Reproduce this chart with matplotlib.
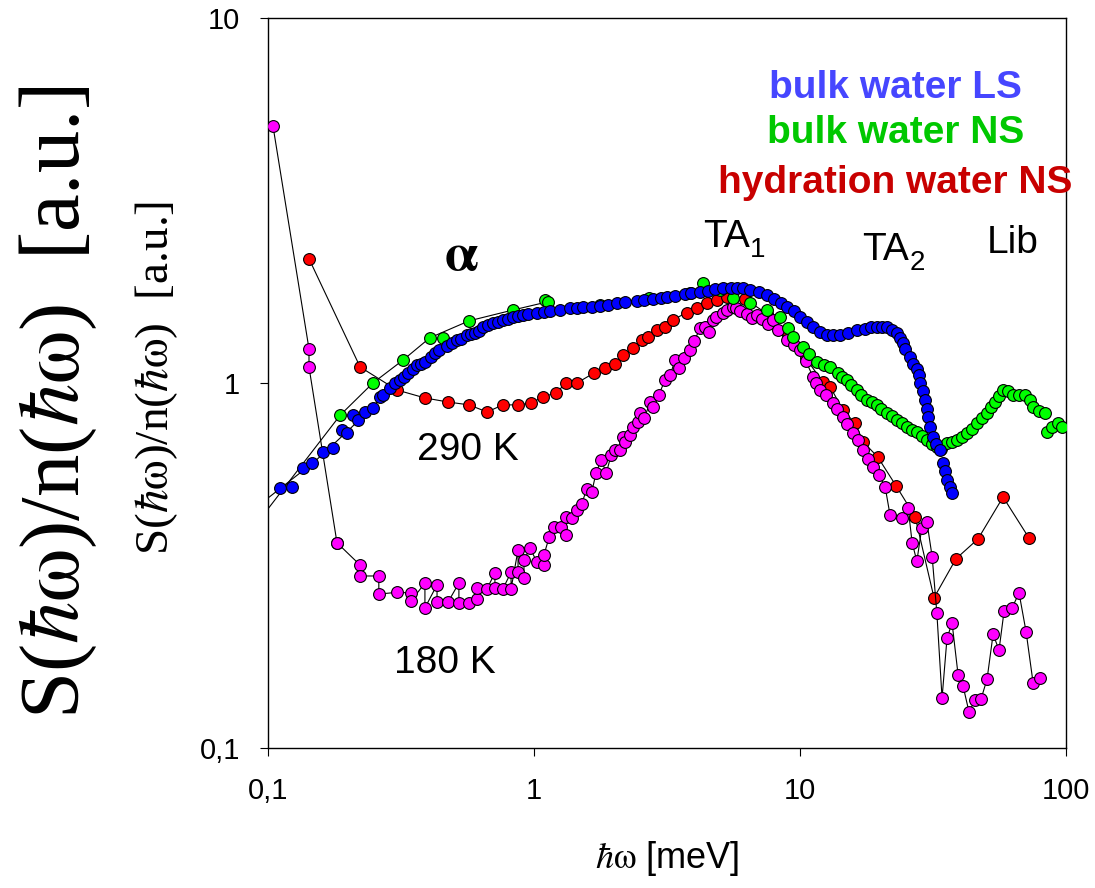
import numpy as np
import matplotlib

matplotlib.use("Agg")
import matplotlib.pyplot as plt
from matplotlib.ticker import FixedLocator, FixedFormatter, NullLocator

plt.rcParams["font.family"] = ["Liberation Sans", "DejaVu Sans"]
plt.rcParams["mathtext.fontset"] = "stix"

# ----------------------------------------------------------------------
# spectra: energy [meV] vs S(w)/n(w) [a.u.]
# ----------------------------------------------------------------------
# bulk water, light scattering
ls_x = [0.111, 0.123, 0.135, 0.146, 0.161, 0.176, 0.190, 0.198, 0.209, 0.218,
        0.232, 0.248, 0.264, 0.27, 0.288, 0.30, 0.313, 0.325, 0.336, 0.35,
        0.363, 0.375, 0.389, 0.41, 0.425, 0.44, 0.471, 0.49, 0.514, 0.53,
        0.560, 0.58, 0.600, 0.62, 0.643, 0.67, 0.701, 0.73, 0.764, 0.80,
        0.834, 0.87, 0.909, 0.95, 1.03, 1.09, 1.15, 1.25, 1.37, 1.45,
        1.53, 1.65, 1.77, 1.9, 2.05, 2.2, 2.44, 2.6, 2.8, 3.0,
        3.16, 3.4, 3.7, 3.9, 4.21, 4.5, 4.8, 5.14, 5.5, 5.8,
        6.11, 6.5, 7.0, 7.52, 8.0, 8.5, 8.93, 9.5, 10.0, 10.6,
        11.2, 11.9, 12.6, 13.3, 14.1, 15.2, 16.4, 17.5, 18.5, 19.5,
        20.3, 21.2, 22.2, 23.2, 23.8, 24.4, 24.9, 25.9, 26.7, 27.5,
        27.9, 28.3, 28.9, 29.5, 29.9, 30.3, 30.9, 31.6, 32.5, 33.6,
        34.5, 35.0, 35.7, 36.5, 37.3]
ls_y = [0.515, 0.519, 0.585, 0.604, 0.647, 0.663, 0.743, 0.730, 0.817, 0.792,
        0.833, 0.855, 0.916, 0.93, 0.969, 1.0, 1.02, 1.04, 1.065, 1.09,
        1.12, 1.13, 1.14, 1.18, 1.21, 1.23, 1.26, 1.29, 1.31, 1.32,
        1.35, 1.36, 1.37, 1.39, 1.42, 1.44, 1.46, 1.47, 1.49, 1.50,
        1.52, 1.53, 1.54, 1.55, 1.56, 1.565, 1.57, 1.58, 1.60, 1.61,
        1.62, 1.62, 1.63, 1.64, 1.66, 1.67, 1.68, 1.69, 1.70, 1.71,
        1.72, 1.73, 1.75, 1.76, 1.78, 1.79, 1.81, 1.82, 1.82, 1.82,
        1.82, 1.80, 1.77, 1.74, 1.70, 1.66, 1.62, 1.57, 1.52, 1.47,
        1.42, 1.38, 1.35, 1.35, 1.35, 1.37, 1.40, 1.41, 1.42, 1.42,
        1.42, 1.42, 1.40, 1.37, 1.33, 1.29, 1.24, 1.18, 1.13, 1.09,
        1.05, 1.0, 0.95, 0.898, 0.85, 0.807, 0.76, 0.711, 0.68, 0.655,
        0.604, 0.575, 0.542, 0.52, 0.500]

# bulk water, neutron scattering
ns_x = [0.187, 0.248, 0.322, 0.406, 0.455, 0.570, 0.834, 1.1, 1.13, 1.77,
        2.7, 3.85, 4.32, 5.0, 5.60, 6.49, 7.52, 8.41, 9.01, 9.41,
        10.26, 10.8, 11.6, 12.3, 13.0, 13.9, 14.4, 15.0, 15.6, 16.4,
        17.0, 17.9, 18.6, 19.5, 20.2, 21.2, 22.1, 23.2, 24.2, 25.2,
        26.3, 27.5, 28.8, 30.0, 31.3, 32.7, 34.0, 35.7, 37.2, 38.9,
        40.5, 42.5, 44.3, 46.3, 48.3, 50.5, 52.2, 54.1, 56.0, 58.0,
        60.5, 63.2, 66.7, 70.2, 73.0, 75.2, 79.0, 83.4, 84.9, 88.5,
        93.4, 96.5]
ns_y = [0.817, 1.0, 1.156, 1.33, 1.33, 1.48, 1.585, 1.69, 1.67, 1.64,
        1.71, 1.76, 1.88, 1.80, 1.71, 1.66, 1.585, 1.52, 1.415, 1.34,
        1.255, 1.20, 1.14, 1.12, 1.106, 1.065, 1.04, 1.02, 0.99, 0.957,
        0.93, 0.898, 0.885, 0.871, 0.85, 0.828, 0.81, 0.792, 0.775, 0.757,
        0.745, 0.734, 0.715, 0.698, 0.68, 0.668, 0.66, 0.685, 0.69, 0.698,
        0.71, 0.730, 0.75, 0.777, 0.80, 0.828, 0.86, 0.887, 0.92, 0.957,
        0.95, 0.927, 0.93, 0.927, 0.90, 0.860, 0.84, 0.828, 0.734, 0.76,
        0.777, 0.76]

# hydration water, neutron scattering, 290 K
hyd290_x = [0.1426, 0.222, 0.305, 0.389, 0.475, 0.570, 0.666, 0.764, 0.871, 0.975,
            1.08, 1.21, 1.32, 1.45, 1.68, 1.85, 2.02, 2.16, 2.36, 2.55,
            2.68, 2.90, 3.11, 3.33, 3.76, 4.10, 4.47, 4.88, 5.3, 6.2,
            7.5, 9.0, 10.5, 12.2, 13.0, 14.5, 16.1, 17.3, 19.6, 23.0,
            27.1, 31.9, 38.6, 46.7, 58.0, 72.6]
hyd290_y = [2.19, 1.106, 0.957, 0.910, 0.887, 0.871, 0.833, 0.871, 0.871, 0.881,
            0.916, 0.939, 1.0, 1.0, 1.065, 1.10, 1.13, 1.19, 1.25, 1.31,
            1.34, 1.40, 1.42, 1.49, 1.56, 1.60, 1.66, 1.69, 1.72, 1.70,
            1.55, 1.35, 1.17, 1.006, 0.975, 0.843, 0.777, 0.689, 0.627, 0.522,
            0.430, 0.258, 0.330, 0.374, 0.487, 0.376]

# hydration water, neutron scattering, 180 K
hyd180_x = [0.1044, 0.1426, 0.1426, 0.1817, 0.1817, 0.222, 0.222, 0.261, 0.261, 0.305,
            0.345, 0.345, 0.389, 0.389, 0.432, 0.432, 0.475, 0.522, 0.522, 0.570,
            0.611, 0.611, 0.666, 0.713, 0.713, 0.764, 0.820, 0.820, 0.871, 0.871,
            0.917, 0.917, 0.966, 1.026, 1.09, 1.09, 1.14, 1.19, 1.26, 1.32,
            1.32, 1.39, 1.45, 1.51, 1.58, 1.65, 1.71, 1.79, 1.87, 1.95,
            2.02, 2.10, 2.16, 2.2, 2.3, 2.36, 2.45, 2.50, 2.6, 2.73,
            2.8, 2.95, 3.11, 3.25, 3.39, 3.5, 3.65, 3.86, 4.0, 4.21,
            4.4, 4.55, 4.71, 4.85, 5.14, 5.3, 5.60, 5.75, 5.95, 6.3,
            6.6, 6.89, 7.2, 7.6, 7.91, 8.3, 8.93, 9.5, 10.0, 10.5,
            11.2, 11.5, 11.9, 12.5, 13.3, 13.8, 14.5, 15.0, 15.8, 16.5,
            17.3, 18.0, 18.8, 19.8, 20.9, 21.8, 24.2, 25.5, 26.4,
            27.5, 28.7, 30.0, 31.4, 32.7, 34.2, 35.7, 37.3, 39.3, 41.0,
            43.2, 45.5, 47.9, 50.5, 53.2, 56.0, 58.5, 62.7, 66.6, 70.8,
            75.2, 79.8]
hyd180_y = [5.06, 1.24, 1.106, 0.365, 0.365, 0.317, 0.296, 0.296, 0.264, 0.267,
            0.266, 0.253, 0.283, 0.242, 0.280, 0.251, 0.251, 0.283, 0.250, 0.250,
            0.256, 0.274, 0.273, 0.302, 0.274, 0.273, 0.303, 0.273, 0.349, 0.303,
            0.292, 0.327, 0.353, 0.323, 0.317, 0.338, 0.378, 0.403, 0.403, 0.384,
            0.430, 0.427, 0.449, 0.466, 0.513, 0.503, 0.567, 0.615, 0.567, 0.635,
            0.655, 0.655, 0.711, 0.69, 0.72, 0.757, 0.78, 0.828, 0.80, 0.887,
            0.86, 0.93, 1.02, 1.05, 1.156, 1.10, 1.17, 1.23, 1.30, 1.415,
            1.42, 1.38, 1.49, 1.52, 1.56, 1.58, 1.62, 1.60, 1.57, 1.55,
            1.51, 1.54, 1.50, 1.45, 1.49, 1.40, 1.31, 1.27, 1.23, 1.15,
            1.04, 1.00, 0.957, 0.93, 0.881, 0.85, 0.807, 0.77, 0.730, 0.70,
            0.655, 0.62, 0.589, 0.56, 0.519, 0.435, 0.427, 0.455, 0.365,
            0.325, 0.401, 0.416, 0.334, 0.234, 0.137, 0.200, 0.220, 0.1585, 0.148,
            0.1255, 0.1355, 0.136, 0.1545, 0.205, 0.1855, 0.237, 0.242, 0.266, 0.208,
            0.151, 0.1555]

# model curves at low energy
fit_ls_x = [0.1, 0.15, 0.2, 0.3, 0.4, 0.6, 1.0, 2.0, 4.0, 6.0]
fit_ls_y = [0.484, 0.61, 0.74, 0.99, 1.16, 1.37, 1.55, 1.66, 1.77, 1.82]
fit_ns_x = [0.1, 0.187, 0.248, 0.322, 0.406, 0.570, 0.834, 1.13]
fit_ns_y = [0.452, 0.817, 1.0, 1.156, 1.33, 1.48, 1.585, 1.67]

# ----------------------------------------------------------------------
# figure
# ----------------------------------------------------------------------
fig = plt.figure(figsize=(10.95, 8.88), dpi=100)
ax = fig.add_axes([268 / 1095, 1 - 748 / 888, 798 / 1095, 730 / 888])

mk = dict(marker="o", ms=8.5, mec="k", mew=0.8)
ax.plot(fit_ls_x, fit_ls_y, color="k", lw=0.8, zorder=1)
ax.plot(fit_ns_x, fit_ns_y, color="k", lw=0.8, zorder=1)
ax.plot(hyd290_x, hyd290_y, color="k", lw=0.8, mfc="#ff0000", zorder=2, **mk)
ax.plot(hyd180_x, hyd180_y, color="k", lw=0.8, mfc="#ff00ff", zorder=3, **mk)
ax.plot(ns_x, ns_y, ls="none", mfc="#00ff00", zorder=4, **mk)
ax.plot(ls_x, ls_y, ls="none", mfc="#0000ff", zorder=5, **mk)

ax.set_xscale("log")
ax.set_yscale("log")
ax.set_xlim(0.1, 100)
ax.set_ylim(0.1, 10)
ax.xaxis.set_major_locator(FixedLocator([0.1, 1, 10, 100]))
ax.xaxis.set_major_formatter(FixedFormatter(["0,1", "1", "10", "100"]))
ax.yaxis.set_major_locator(FixedLocator([0.1, 1, 10]))
ax.yaxis.set_major_formatter(FixedFormatter(["0,1", "1", "10"]))
ax.xaxis.set_minor_locator(NullLocator())
ax.yaxis.set_minor_locator(NullLocator())
ax.tick_params(direction="out", length=6, width=0.8, labelsize=21)
ax.tick_params(axis="x", pad=15)
ax.tick_params(axis="y", pad=14)
for s in ax.spines.values():
    s.set_linewidth(1.0)

ax.set_xlabel(r"$\hbar\mathrm{\omega}$ [meV]", fontsize=26, labelpad=24)

# y labels (large outer + small inner)
ylab = r"S($\hbar\mathrm{\omega}$)/n($\hbar\mathrm{\omega}$)  [a.u.]"
fig.text(58 / 1095, 1 - 402 / 888, ylab, rotation=90, ha="center", va="center",
         fontsize=61, family=["Liberation Serif", "DejaVu Serif"])
fig.text(157 / 1095, 1 - 378 / 888, ylab, rotation=90, ha="center", va="center",
         fontsize=34, family=["Liberation Serif", "DejaVu Serif"])

# series labels
ax.text(22.8, 6.04, "bulk water LS", color="#4646ff", fontsize=28,
        weight="bold", ha="center", va="baseline")
ax.text(22.8, 4.54, "bulk water NS", color="#00c800", fontsize=28,
        weight="bold", ha="center", va="baseline")
ax.text(22.8, 3.32, "hydration water NS", color="#c80000", fontsize=28,
        weight="bold", ha="center", va="baseline", clip_on=False)

# mode / temperature annotations
ax.text(0.532, 2.04, r"$\mathbf{\alpha}$", fontsize=38, ha="center", va="baseline")
ax.text(0.363, 0.615, "290 K", fontsize=28, va="baseline")
ax.text(0.298, 0.160, "180 K", fontsize=28, va="baseline")
for label, sub, x, y in [("TA", "1", 4.32, 2.36), ("TA", "2", 17.1, 2.17)]:
    ax.text(x, y, label, fontsize=28, va="baseline")
    ax.annotate(sub, (x, y), xytext=(34, -7), textcoords="offset points",
                fontsize=20, va="baseline")
ax.text(50.5, 2.27, "Lib", fontsize=28, va="baseline")

fig.savefig("out.png", dpi=100)
